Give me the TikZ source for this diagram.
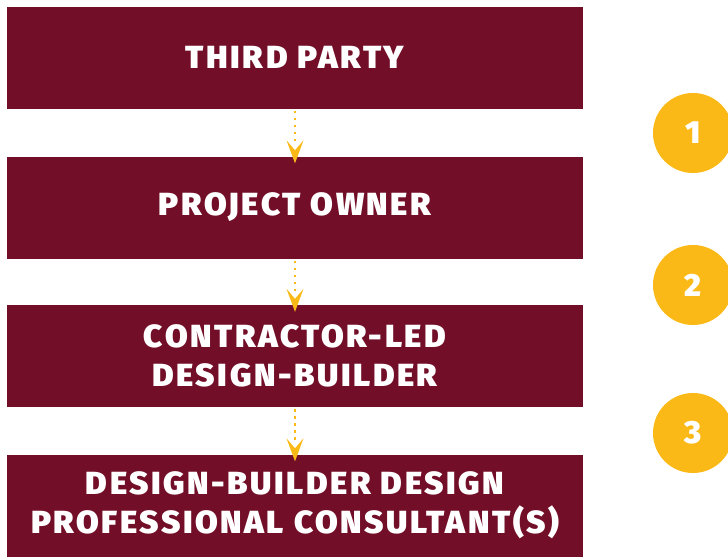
\documentclass[tikz,border=0pt]{standalone}
\usepackage{fontspec}
\setmainfont{Fira Sans}[BoldFont={* Black}]
\usetikzlibrary{calc}
\definecolor{maroon}{HTML}{730E28}
\definecolor{gold}{HTML}{FBB917}
\begin{document}
\begin{tikzpicture}[x=1pt,y=-1pt,
  stage/.style={fill=maroon, minimum width=576pt, minimum height=102pt,
    inner sep=0pt, text=white, align=center,
    font=\fontsize{32}{39}\selectfont\bfseries\addfontfeatures{LetterSpace=8,FakeStretch=1.03}},
  badge/.style={circle, fill=gold, minimum size=80pt, inner sep=0pt, text=white,
    font=\fontsize{32}{34}\selectfont\bfseries},
  flowline/.style={gold, line width=2.4pt, dash pattern=on 2.6pt off 4.4pt},
  flowhead/.style={fill=gold}]
  \useasboundingbox (0,0) rectangle (728,557);
  % stacked contract tiers
  \node[stage] (tp) at (295,57.5) {THIRD PARTY};
  \node[stage] (po) at (295,207.5) {PROJECT OWNER};
  \node[stage] (db) at (295,356) {CONTRACTOR-LED\\DESIGN-BUILDER};
  \node[stage] (dp) at (295,505.5) {DESIGN-BUILDER DESIGN\\PROFESSIONAL CONSULTANT(S)};
  % numbered markers
  \node[badge] (n1) at (693,133) {1};
  \node[badge] (n2) at (693,285) {2};
  \node[badge] (n3) at (693,433) {3};
  % links between tiers: dotted shaft plus a notched head
  \foreach \a/\b in {tp/po, po/db, db/dp} {
    \coordinate (tip-\b) at ($(\b.north)+(0,7)$);
    \draw[flowline] ($(\a.south)+(0,2)$) -- ($(tip-\b)+(0,-20)$);
    \fill[flowhead] (tip-\b) -- ++(-8.5,-23) -- ++(8.5,10) -- ++(8.5,-10) -- cycle;
  }
\end{tikzpicture}
\end{document}
